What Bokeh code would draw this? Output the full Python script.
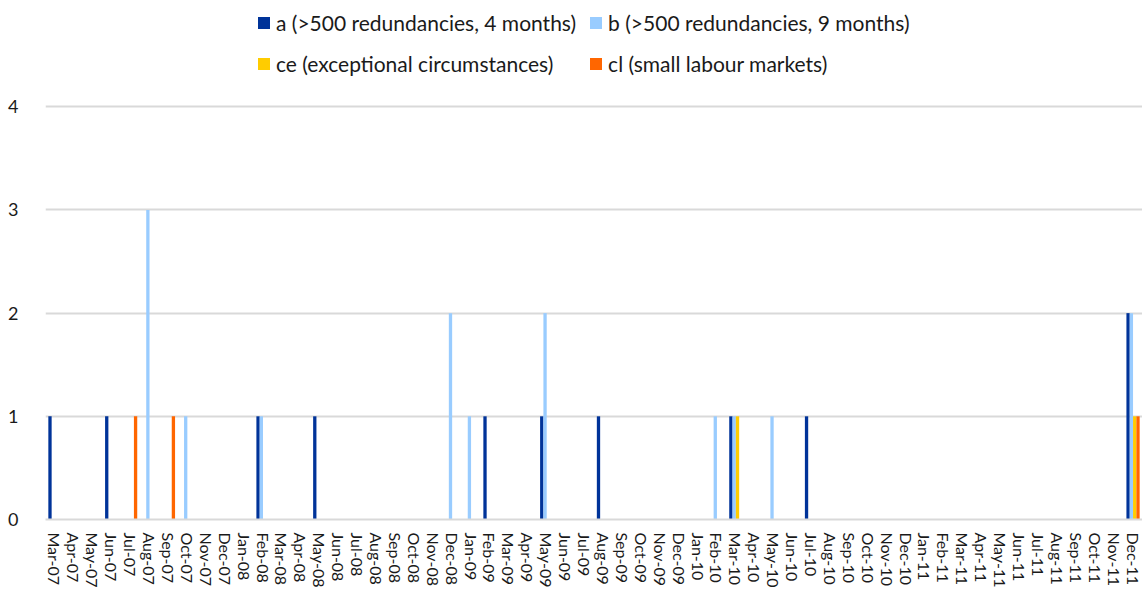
from bokeh.plotting import figure
from bokeh.models import ColumnDataSource, FactorRange, Range1d, Legend, LegendItem, FixedTicker
from bokeh.transform import dodge
from bokeh.embed import file_html
from bokeh.resources import INLINE

months = [
    "Mar-07", "Apr-07", "May-07", "Jun-07", "Jul-07", "Aug-07", "Sep-07", "Oct-07", "Nov-07", "Dec-07",
    "Jan-08", "Feb-08", "Mar-08", "Apr-08", "May-08", "Jun-08", "Jul-08", "Aug-08", "Sep-08", "Oct-08", "Nov-08", "Dec-08",
    "Jan-09", "Feb-09", "Mar-09", "Apr-09", "May-09", "Jun-09", "Jul-09", "Aug-09", "Sep-09", "Oct-09", "Nov-09", "Dec-09",
    "Jan-10", "Feb-10", "Mar-10", "Apr-10", "May-10", "Jun-10", "Jul-10", "Aug-10", "Sep-10", "Oct-10", "Nov-10", "Dec-10",
    "Jan-11", "Feb-11", "Mar-11", "Apr-11", "May-11", "Jun-11", "Jul-11", "Aug-11", "Sep-11", "Oct-11", "Nov-11", "Dec-11",
]

#           2007: Mar..Dec         2008: Jan..Dec               2009: Jan..Dec               2010: Jan..Dec               2011: Jan..Dec
series_a  = [1,0,0,1,0,0,0,0,0,0,  0,1,0,0,1,0,0,0,0,0,0,0,  0,1,0,0,1,0,0,1,0,0,0,0,  0,0,1,0,0,0,1,0,0,0,0,0,  0,0,0,0,0,0,0,0,0,0,0,2]
series_b  = [0,0,0,0,0,3,0,1,0,0,  0,1,0,0,0,0,0,0,0,0,0,2,  1,0,0,0,2,0,0,0,0,0,0,0,  0,1,1,0,1,0,0,0,0,0,0,0,  0,0,0,0,0,0,0,0,0,0,0,2]
series_ce = [0,0,0,0,0,0,0,0,0,0,  0,0,0,0,0,0,0,0,0,0,0,0,  0,0,0,0,0,0,0,0,0,0,0,0,  0,0,1,0,0,0,0,0,0,0,0,0,  0,0,0,0,0,0,0,0,0,0,0,1]
series_cl = [0,0,0,0,1,0,1,0,0,0,  0,0,0,0,0,0,0,0,0,0,0,0,  0,0,0,0,0,0,0,0,0,0,0,0,  0,0,0,0,0,0,0,0,0,0,0,0,  0,0,0,0,0,0,0,0,0,0,0,1]

labels = [
    "a (>500 redundancies, 4 months)",
    "b (>500 redundancies, 9 months)",
    "ce (exceptional circumstances)",
    "cl (small labour markets)",
]
colors = ["#003399", "#99CCFF", "#FFCC00", "#FF6600"]
y_ticks = [0, 1, 2, 3, 4]

FONT = "Lato"
TEXT = "#1a1a1a"

src = ColumnDataSource(dict(month=months, a=series_a, b=series_b, ce=series_ce, cl=series_cl))

# the plot frame reaches the top of the canvas so the legend can sit inside it;
# the value axis still shows 0..4 (4 lies at 107 px from the top)
p = figure(
    width=1142, height=590,
    x_range=FactorRange(*months, range_padding=0),
    y_range=Range1d(0, 5.03),
    output_backend="svg", toolbar_location=None,
    min_border_left=45, min_border_right=0, min_border_top=0, min_border_bottom=68,
)
p.outline_line_color = None
p.background_fill_color = "white"
p.border_fill_color = "white"

bw = 0.175
offsets = [-1.5 * bw, -0.5 * bw, 0.5 * bw, 1.5 * bw]
keys = ["a", "b", "ce", "cl"]
renderers = []
for k, off, c in zip(keys, offsets, colors):
    r = p.vbar(x=dodge("month", off, range=p.x_range), top=k, bottom=0, width=bw,
               source=src, fill_color=c, line_color=None)
    renderers.append(r)

# axes
p.yaxis.ticker = FixedTicker(ticks=y_ticks)
p.yaxis.axis_line_color = None
p.yaxis.major_tick_line_color = None
p.yaxis.minor_tick_line_color = None
p.yaxis.major_label_standoff = 21
p.yaxis.major_label_text_font = FONT
p.yaxis.major_label_text_font_size = "18px"
p.yaxis.major_label_text_color = TEXT

p.xaxis.axis_line_color = "#D9D9D9"
p.xaxis.axis_line_width = 2
p.xaxis.major_tick_line_color = None
p.xaxis.minor_tick_line_color = None
p.xaxis.major_label_orientation = "vertical"
p.xaxis.major_label_standoff = 7
p.xaxis.major_label_text_font = FONT
p.xaxis.major_label_text_font_size = "16px"
p.xaxis.major_label_text_color = TEXT

p.xgrid.grid_line_color = None
p.ygrid.grid_line_color = "#D9D9D9"
p.ygrid.grid_line_width = 2
p.ygrid.ticker = FixedTicker(ticks=y_ticks)

legend = Legend(
    items=[LegendItem(label=l, renderers=[r]) for l, r in zip(labels, renderers)],
    orientation="horizontal", ncols=2,
    location=(211, 441),
    padding=0, margin=0, spacing=12,
    glyph_width=15, glyph_height=15, label_height=29, label_standoff=5,
    label_text_font=FONT, label_text_font_size="21px", label_text_color=TEXT,
    border_line_color=None, background_fill_alpha=0,
)
p.add_layout(legend, "center")

open("out.html", "w").write(file_html(p, INLINE))
